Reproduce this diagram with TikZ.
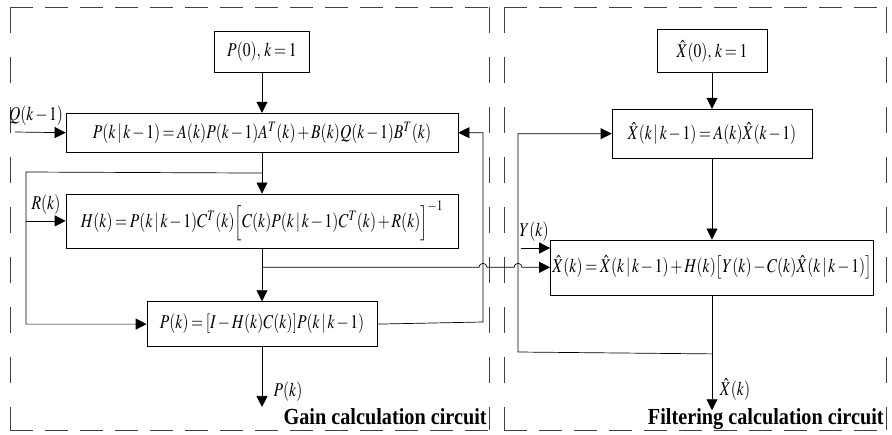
\documentclass[tikz,border=0pt]{standalone}
\usepackage{mathptmx}
\usepackage[no-math]{fontspec}
\setmainfont{Liberation Serif}
\usepackage{graphicx}
\usetikzlibrary{arrows.meta, positioning, calc}
\newcommand{\sqz}[1]{\scalebox{0.8}[1]{#1}}
\thickmuskip=3mu plus 2mu
\medmuskip=2mu plus 1mu

\begin{document}
\begin{tikzpicture}[x=1pt, y=-1pt, line width=0.7pt,
    every node/.style={font=\fontsize{19.5}{22}\selectfont, inner sep=0pt},
    box/.style={draw, align=center},
    arr/.style={-{Triangle[length=11pt,width=11pt]}},
    hdash/.style={draw=black!75, dash pattern=on 23pt off 12pt},
    vdash/.style={draw=black!75, dash pattern=on 26pt off 24pt},
    circtitle/.style={font=\fontsize{23}{25}\selectfont\bfseries, anchor=base east}]
  \useasboundingbox (0,0) rectangle (892,434);
  % dashed frames
  \draw[hdash] (10,7) -- (489,7) (10,430) -- (489,430);
  \draw[vdash] (10,7) -- (10,430) (489,7) -- (489,430);
  \draw[hdash] (504,7) -- (886,7) (504,430) -- (886,430);
  \draw[vdash] (504,7) -- (504,430) (886,7) -- (886,430);
  % gain calculation
  \node[box, minimum width=95pt, minimum height=41pt] (p0) at (262,52) {\sqz{$P(0),\,k=1$}};
  \node[box, minimum width=392pt, minimum height=39pt, below=40pt of p0] (pkk)
    {\sqz{$P(k\,|\,k-1)=A(k)P(k-1)A^{T}(k)+B(k)Q(k-1)B^{T}(k)$}};
  \node[box, minimum width=392pt, minimum height=54pt, below=41pt of pkk] (hk)
    {\sqz{$H(k)=P(k\,|\,k-1)C^{T}(k)\Bigl[C(k)P(k\,|\,k-1)C^{T}(k)+R(k)\Bigr]^{-1}$}};
  \node[box, minimum width=230pt, minimum height=45pt, below=53pt of hk] (pk)
    {\sqz{$P(k)=[I-H(k)C(k)]P(k\,|\,k-1)$}};
  % filtering calculation
  \node[box, minimum width=110pt, minimum height=43pt] (x0) at (712,51) {\sqz{$\hat{X}(0),\,k=1$}};
  \node[box, minimum width=200pt, minimum height=49pt, below=36pt of x0] (xkk)
    {\sqz{$\hat{X}(k\,|\,k-1)=A(k)\hat{X}(k-1)$}};
  \node[box, minimum width=323pt, minimum height=55pt, below=81pt of xkk] (xk)
    {\sqz{$\hat{X}(k)=\hat{X}(k\,|\,k-1)+H(k)\bigl[Y(k)-C(k)\hat{X}(k\,|\,k-1)\bigr]$}};

  \coordinate (qin) at (15,132);
  \coordinate (j1) at ($(pkk.south)!0.5!(hk.north)$);
  \coordinate (fbl) at (26,172);
  \coordinate (j2) at ($(hk.south)!0.36!(pk.north)$);
  \coordinate (fbr) at (483,322);
  \coordinate (pout) at ($(pk.south)+(0,60)$);
  \coordinate (yin) at (521,248);
  \coordinate (xout) at ($(xk.south)+(0,115)$);
  \coordinate (j3) at ($(xk.south)!0.51!(xout)$);
  \coordinate (xfb) at (518,352);

  \draw[arr] (p0) -- (pkk);
  \draw[arr] (qin) -- (pkk.west);
  \draw[arr] (pkk.south) -- (hk.north);
  \draw[arr] (j1) -- (fbl) |- (pk.west);
  \draw[arr] (hk.west -| fbl) -- (hk.west);
  \draw[arr] (hk.south) -- (pk.north);
  \draw[arr] (pk.east) -- (fbr) |- (pkk.east);
  \draw[arr] (pk.south) -- (pout);
  \draw[arr] (j2) -- ($(j2 -| fbr)+(-4,0)$) arc[start angle=180, end angle=360, radius=4]
    -- ($(j2 -| xfb)+(-4,0)$) arc[start angle=180, end angle=360, radius=4] -- (j2 -| xk.west);
  \draw[arr] (x0) -- (xkk);
  \draw[arr] (xkk) -- (xk);
  \draw[arr] (yin) -- (yin -| xk.west);
  \draw[arr] (j3) -- (xfb) |- (xkk.west);
  \draw[arr] (xk.south) -- (xout);

  \node (qlab) at (36,116) {\sqz{$Q(k-1)$}};
  \node (rlab) at (46,205) {\sqz{$R(k)$}};
  \node (plab) at (288,392) {\sqz{$P(k)$}};
  \node (ylab) at (534,232) {\sqz{$Y(k)$}};
  \node (xlab) at (735,389) {\sqz{$\hat{X}(k)$}};
  \node[circtitle] (gaint) at (487,424) {\scalebox{0.88}[1]{Gain calculation circuit}};
  \node[circtitle] (filtt) at (884,424) {\scalebox{0.88}[1]{Filtering calculation circuit}};
\end{tikzpicture}
\end{document}
